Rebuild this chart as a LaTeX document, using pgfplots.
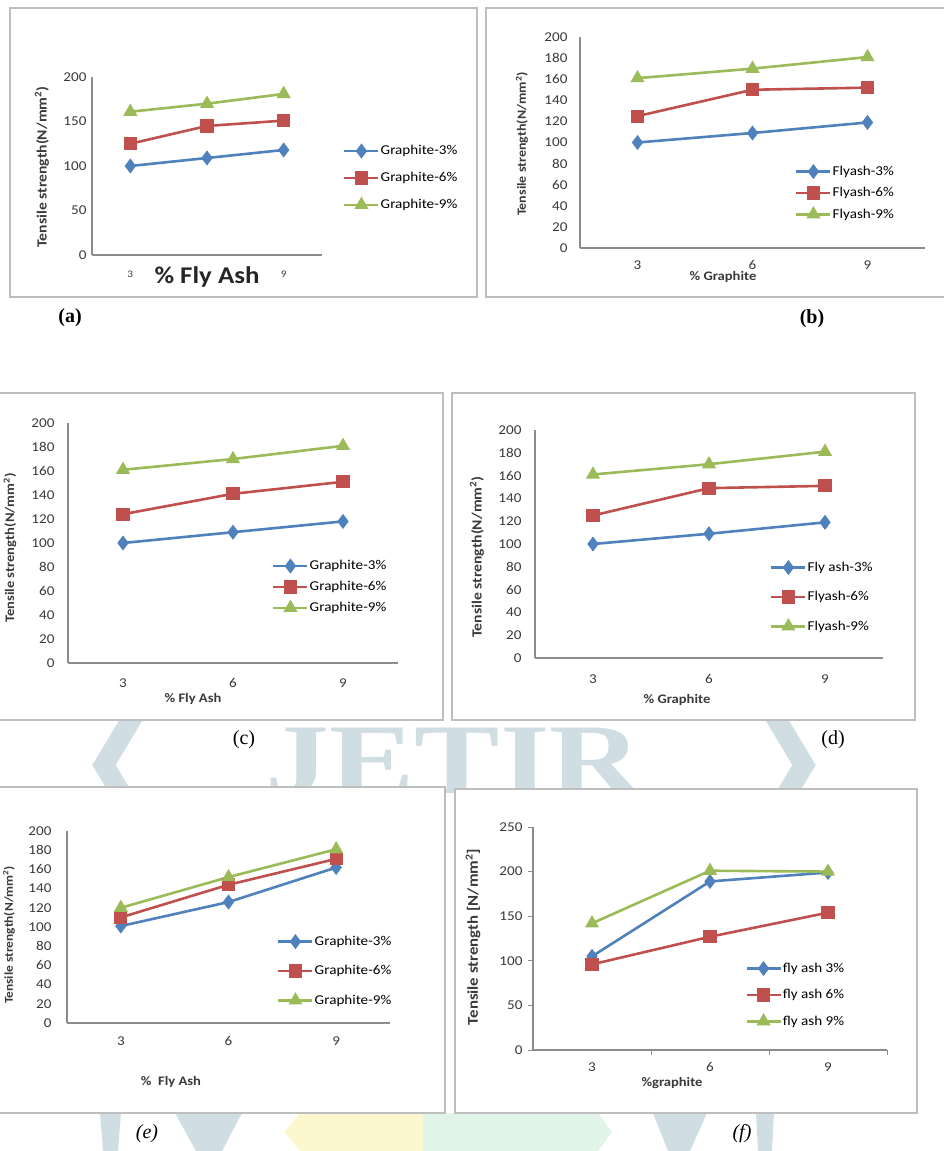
\documentclass[border=0pt]{standalone}
\usepackage{fontspec}
\setmainfont{Liberation Serif}
\newfontfamily\chartfont[FakeStretch=1.12]{Carlito}
\usepackage{pgfplots}
\pgfplotsset{compat=1.18}
\usepackage{pgfplotstable}
\definecolor{eblue}{HTML}{4F81BD}
\definecolor{ered}{HTML}{C0504D}
\definecolor{egreen}{HTML}{9BBB59}
\definecolor{axisgray}{HTML}{8C8C8C}
\definecolor{framegray}{HTML}{BEBEBE}
\definecolor{tickgray}{HTML}{3A3A3A}
\definecolor{wm}{RGB}{208,222,228}
\definecolor{wmyellow}{RGB}{253,247,208}
\definecolor{wmgreen}{RGB}{224,245,231}
\newcommand{\tl}{\chartfont\fontsize{13.5}{15}\selectfont}
\newcommand{\al}{\chartfont\bfseries\fontsize{13}{15}\selectfont}

\pgfplotstableread{
pos s3 s6 s9
0.5 100 125 161
1.5 109 145 170
2.5 118 151 181
}\dataA
\pgfplotstableread{
pos s3 s6 s9
0.5 100 125 161
1.5 109 150 170
2.5 119 152 181
}\dataB
\pgfplotstableread{
pos s3 s6 s9
0.5 100 124 161
1.5 109 141 170
2.5 118 151 181
}\dataC
\pgfplotstableread{
pos s3 s6 s9
0.5 100 125 161
1.5 109 149 170
2.5 119 151 181
}\dataD
\pgfplotstableread{
pos s3 s6 s9
0.5 101 110 120
1.5 126 144 152
2.5 162 171 181
}\dataE
\pgfplotstableread{
pos s3 s6 s9
0.5 105 96 142
1.5 189 127 201
2.5 199 154 200
}\dataF

\pgfplotsset{
  panel/.style={scale only axis, axis lines=left,
    axis line style={-, draw=axisgray, line width=1.1pt},
    xmin=0, xmax=3, ymin=0, ymax=200,
    xtick={0.5,1.5,2.5}, xticklabels={3,6,9},
    major tick length=0pt,
    /pgf/number format/assume math mode=true,
    tick label style={font=\tl, text=tickgray},
    clip=false, legend cell align=left,
    legend style={draw=none, fill=none, font=\tl, inner sep=0pt,
      nodes={inner sep=1pt, anchor=west}},
    legend image code/.code={\draw[mark repeat=2, mark phase=2, ##1] plot coordinates {(0pt,0pt) (17pt,0pt) (34pt,0pt)};}
  },
  s3/.style={color=eblue, line width=2.6pt, mark=diamond*, mark size=5.4pt, mark options={solid}},
  s6/.style={color=ered, line width=2.6pt, mark=square*, mark size=5.3pt, mark options={solid}},
  s9/.style={color=egreen, line width=2.6pt, mark=triangle*, mark size=5.6pt, mark options={solid}},
}

\begin{document}
\begin{tikzpicture}
\path[use as bounding box] (0pt,0pt) rectangle (943pt,-1151pt);

% background watermark
\node[anchor=base west, inner sep=0pt, text=wm, xscale=1.28,
  font=\fontspec{Liberation Serif}\bfseries\fontsize{100}{100}\selectfont] at (265pt,-793pt) {JETIR};
\draw[wm, line width=20pt, line join=miter] (140pt,-705pt) -- (104pt,-765pt) -- (140pt,-825pt);
\draw[wm, line width=20pt, line join=miter] (768pt,-705pt) -- (804pt,-765pt) -- (768pt,-825pt);
\fill[wm] (100pt,-1113pt) -- (121pt,-1113pt) -- (118pt,-1151pt) -- (103pt,-1151pt) -- cycle;
\fill[wm] (175pt,-1113pt) -- (242pt,-1113pt) -- (222pt,-1151pt) -- (196pt,-1151pt) -- cycle;
\fill[wmyellow] (300pt,-1113pt) -- (423pt,-1113pt) -- (423pt,-1151pt) -- (300pt,-1151pt) -- (284pt,-1132pt) -- cycle;
\fill[wmgreen] (423pt,-1113pt) -- (598pt,-1113pt) -- (612pt,-1132pt) -- (598pt,-1151pt) -- (423pt,-1151pt) -- cycle;
\fill[wm] (653pt,-1113pt) -- (707pt,-1113pt) -- (690pt,-1151pt) -- (668pt,-1151pt) -- cycle;
\fill[wm] (756pt,-1113pt) -- (774pt,-1113pt) -- (772pt,-1151pt) -- (758pt,-1151pt) -- cycle;

% frames
\draw[framegray, line width=1.6pt, fill=white] (10pt,-8pt) rectangle (477pt,-297pt);
\draw[framegray, line width=1.6pt, fill=white] (486pt,-8pt) rectangle (946pt,-297pt);
\draw[framegray, line width=1.6pt, fill=white] (-5pt,-393pt) rectangle (443pt,-720pt);
\draw[framegray, line width=1.6pt, fill=white] (452pt,-393pt) rectangle (915pt,-720pt);
\draw[framegray, line width=1.6pt, fill=white] (-5pt,-787pt) rectangle (445pt,-1113pt);
\draw[framegray, line width=1.6pt, fill=white] (455pt,-789pt) rectangle (917pt,-1113pt);

% ---------------- (a)
\begin{axis}[panel, at={(92pt,-255pt)}, anchor=south west, width=230pt, height=178pt,
  ytick={0,50,...,200}, xticklabels={3,{},9},
  yticklabel style={xshift=-2pt},
  xticklabel style={yshift=-12pt, font=\chartfont\fontsize{10}{12}\selectfont},
  legend style={at={(1.091,0.433)}, anchor=west, row sep=14pt}]
\addplot[s3] table[x=pos,y=s3]{\dataA}; \addlegendentry{Graphite-3\%}
\addplot[s6] table[x=pos,y=s6]{\dataA}; \addlegendentry{Graphite-6\%}
\addplot[s9] table[x=pos,y=s9]{\dataA}; \addlegendentry{Graphite-9\%}
\end{axis}
\node[font=\chartfont\bfseries\fontsize{24}{26}\selectfont, text=black!85] at (207pt,-277pt) {\% Fly Ash};
\node[rotate=90, font=\chartfont\bfseries\fontsize{14}{16}\selectfont, text=tickgray] at (42pt,-167pt) {Tensile strength(N/mm\textsuperscript{2})};
\node[font=\bfseries\fontsize{20}{22}\selectfont] at (70pt,-318pt) {(a)};

% ---------------- (b)
\begin{axis}[panel, at={(580pt,-248pt)}, anchor=south west, width=345pt, height=211pt,
  ytick={0,20,...,200},
  yticklabel style={xshift=-9pt},
  xticklabel style={yshift=-9pt},
  legend style={at={(0.623,0.261)}, anchor=west, row sep=8.5pt}]
\addplot[s3] table[x=pos,y=s3]{\dataB}; \addlegendentry{Flyash-3\%}
\addplot[s6] table[x=pos,y=s6]{\dataB}; \addlegendentry{Flyash-6\%}
\addplot[s9] table[x=pos,y=s9]{\dataB}; \addlegendentry{Flyash-9\%}
\end{axis}
\node[font=\al, text=tickgray] at (723pt,-277pt) {\% Graphite};
\node[rotate=90, font=\chartfont\bfseries\fontsize{12.5}{14}\selectfont, text=tickgray] at (522pt,-144pt) {Tensile strength(N/mm\textsuperscript{2})};
\node[font=\bfseries\fontsize{20}{22}\selectfont] at (812pt,-319pt) {(b)};

% ---------------- (c)
\begin{axis}[panel, at={(68pt,-663pt)}, anchor=south west, width=330pt, height=240pt,
  ytick={0,20,...,200},
  yticklabel style={xshift=-10pt},
  xticklabel style={yshift=-12pt},
  legend style={at={(0.618,0.317)}, anchor=west, row sep=8pt}]
\addplot[s3] table[x=pos,y=s3]{\dataC}; \addlegendentry{Graphite-3\%}
\addplot[s6] table[x=pos,y=s6]{\dataC}; \addlegendentry{Graphite-6\%}
\addplot[s9] table[x=pos,y=s9]{\dataC}; \addlegendentry{Graphite-9\%}
\end{axis}
\node[font=\al, text=tickgray] at (193pt,-699pt) {\% Fly Ash};
\node[rotate=90, font=\chartfont\bfseries\fontsize{13}{15}\selectfont, text=tickgray] at (10pt,-548pt) {Tensile strength(N/mm\textsuperscript{2})};
\node[font=\fontsize{20}{22}\selectfont] at (244pt,-740pt) {(c)};

% ---------------- (d)
\begin{axis}[panel, at={(535pt,-658pt)}, anchor=south west, width=348pt, height=228pt,
  ytick={0,20,...,200},
  yticklabel style={xshift=-10pt},
  xticklabel style={yshift=-13pt},
  legend style={at={(0.675,0.268)}, anchor=west, row sep=16.5pt}]
\addplot[s3] table[x=pos,y=s3]{\dataD}; \addlegendentry{Fly ash-3\%}
\addplot[s6] table[x=pos,y=s6]{\dataD}; \addlegendentry{Flyash-6\%}
\addplot[s9] table[x=pos,y=s9]{\dataD}; \addlegendentry{Flyash-9\%}
\end{axis}
\node[font=\al, text=tickgray] at (677pt,-700pt) {\% Graphite};
\node[rotate=90, font=\chartfont\bfseries\fontsize{14}{16}\selectfont, text=tickgray] at (477pt,-557pt) {Tensile strength(N/mm\textsuperscript{2})};
\node[font=\fontsize{20}{22}\selectfont] at (833pt,-740pt) {(d)};

% ---------------- (e)
\begin{axis}[panel, at={(67pt,-1023pt)}, anchor=south west, width=323pt, height=192pt,
  ytick={0,20,...,200},
  yticklabel style={xshift=-12pt},
  xticklabel style={yshift=-10pt},
  legend style={at={(0.650,0.271)}, anchor=west, row sep=16.5pt}]
\addplot[s3] table[x=pos,y=s3]{\dataE}; \addlegendentry{Graphite-3\%}
\addplot[s6] table[x=pos,y=s6]{\dataE}; \addlegendentry{Graphite-6\%}
\addplot[s9] table[x=pos,y=s9]{\dataE}; \addlegendentry{Graphite-9\%}
\end{axis}
\node[font=\al, text=tickgray] at (171pt,-1082pt) {\%\ \ Fly Ash};
\node[rotate=90, font=\chartfont\bfseries\fontsize{12}{14}\selectfont, text=tickgray] at (9pt,-935pt) {Tensile strength(N/mm\textsuperscript{2})};
\node[font=\itshape\fontsize{20}{22}\selectfont] at (147pt,-1134pt) {(e)};

% ---------------- (f)
\begin{axis}[panel, at={(533pt,-1050pt)}, anchor=south west, width=354pt, height=223pt,
  ymax=250, ytick={0,50,...,250},
  tick align=outside, major tick length=5pt,
  tick style={draw=axisgray, line width=1pt},
  xtick={1,2,3}, xticklabels={},
  extra x ticks={0.5,1.5,2.5}, extra x tick labels={3,6,9},
  extra x tick style={major tick length=0pt, xticklabel style={yshift=-9pt}},
  yticklabel style={xshift=-2pt},
  legend style={at={(0.599,0.247)}, anchor=west, row sep=13.5pt}]
\addplot[s3] table[x=pos,y=s3]{\dataF}; \addlegendentry{fly ash 3\%}
\addplot[s6] table[x=pos,y=s6]{\dataF}; \addlegendentry{fly ash 6\%}
\addplot[s9] table[x=pos,y=s9]{\dataF}; \addlegendentry{fly ash 9\%}
\end{axis}
\node[font=\al, text=tickgray] at (672pt,-1083pt) {\%graphite};
\node[rotate=90, font=\chartfont\bfseries\fontsize{15}{17}\selectfont, text=tickgray] at (473pt,-937pt) {Tensile strength [N/mm\textsuperscript{2}]};
\node[font=\itshape\fontsize{20}{22}\selectfont] at (742pt,-1134pt) {(f)};
\end{tikzpicture}
\end{document}
